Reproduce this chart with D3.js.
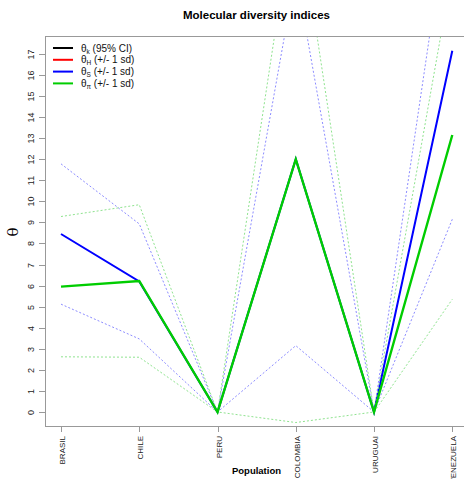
<!DOCTYPE html>
<html>
<head>
<meta charset="utf-8">
<script src="https://cdnjs.cloudflare.com/ajax/libs/d3/7.8.5/d3.min.js"></script>
<style>
  body { margin: 0; background: #fff; }
  svg { display: block; font-family: "Liberation Sans", Arial, sans-serif; }
</style>
</head>
<body>
<div id="chart"></div>
<script>
// populations along the x axis
const populations = ['BRASIL', 'CHILE', 'PERU', 'COLOMBIA', 'URUGUAI', 'VENEZUELA'];

// theta S: mean and +/- 1 sd
const thetaS = [8.45, 6.2, 0, 12.0, 0, 17.15];
const thetaSsd = [3.33, 2.73, 0, 8.85, 0, 8.0];

// theta pi: mean and +/- 1 sd
const thetaPi = [5.95, 6.22, 0, 12.0, 0, 13.15];
const thetaPisd = [3.33, 3.62, 0, 12.5, 0, 7.8];

const yTicks = d3.range(0, 18);

const legendItems = [
    { sym: 'θ', sub: 'k', txt: ' (95% CI)', color: '#000000' },
    { sym: 'θ', sub: 'H', txt: ' (+/- 1 sd)', color: '#ff0000' },
    { sym: 'θ', sub: 'S', txt: ' (+/- 1 sd)', color: '#0000ff' },
    { sym: 'θ', sub: 'π', txt: ' (+/- 1 sd)', color: '#00cd00' }
];

const W = 464, H = 479;
const plot = { left: 45, right: 468, top: 36, bottom: 426 };

const svg = d3.select('#chart').append('svg')
    .attr('width', W)
    .attr('height', H);

const x = d3.scalePoint()
    .domain(populations)
    .range([61, 452.3]);

const y = d3.scaleLinear()
    .domain([-0.665, 17.85])
    .range([plot.bottom, plot.top]);

svg.append('clipPath').attr('id', 'clip')
    .append('rect')
    .attr('x', plot.left).attr('y', plot.top)
    .attr('width', plot.right - plot.left)
    .attr('height', plot.bottom - plot.top);

const g = svg.append('g').attr('clip-path', 'url(#clip)');

const line = d3.line()
    .x((d, i) => x(populations[i]))
    .y(d => y(d));

function drawSeries(mean, sd, color, light, width) {
    const lower = mean.map((m, i) => m - sd[i]);
    const upper = mean.map((m, i) => m + sd[i]);
    [upper, lower].forEach(vals => {
        g.append('path')
            .attr('d', line(vals))
            .attr('fill', 'none')
            .attr('stroke', light)
            .attr('stroke-width', 1)
            .attr('stroke-dasharray', '2,2');
    });
    g.append('path')
        .attr('d', line(mean))
        .attr('fill', 'none')
        .attr('stroke', color)
        .attr('stroke-width', width);
}

drawSeries(thetaS, thetaSsd, '#0000ff', '#8c8cff', 2);
drawSeries(thetaPi, thetaPisd, '#00cd00', '#8fe38f', 2.4);

// frame
svg.append('rect')
    .attr('x', plot.left + 0.5).attr('y', plot.top + 0.5)
    .attr('width', plot.right - plot.left)
    .attr('height', plot.bottom - plot.top)
    .attr('fill', 'none')
    .attr('stroke', '#999');

// y axis
const yAxis = svg.append('g');
yTicks.forEach(t => {
    const yy = Math.round(y(t)) + 0.5;
    yAxis.append('line')
        .attr('x1', 39).attr('x2', plot.left)
        .attr('y1', yy).attr('y2', yy)
        .attr('stroke', '#999');
    yAxis.append('text')
        .attr('transform', `translate(34,${yy}) rotate(-90)`)
        .attr('text-anchor', 'middle')
        .attr('font-size', 9)
        .attr('fill', '#222')
        .text(t);
});

// x axis
const xAxis = svg.append('g');
populations.forEach(p => {
    const xx = Math.round(x(p)) + 0.5;
    xAxis.append('line')
        .attr('x1', xx).attr('x2', xx)
        .attr('y1', plot.bottom).attr('y2', plot.bottom + 6)
        .attr('stroke', '#999');
    xAxis.append('text')
        .attr('transform', `translate(${xx + 3},436) rotate(-90)`)
        .attr('text-anchor', 'end')
        .attr('font-size', 8)
        .attr('fill', '#222')
        .text(p);
});

// titles
svg.append('text')
    .attr('x', 256.5).attr('y', 19)
    .attr('text-anchor', 'middle')
    .attr('font-size', 11.5)
    .attr('font-weight', 'bold')
    .text('Molecular diversity indices');

svg.append('text')
    .attr('x', 256.5).attr('y', 474)
    .attr('text-anchor', 'middle')
    .attr('font-size', 9.5)
    .attr('font-weight', 'bold')
    .text('Population');

svg.append('text')
    .attr('transform', 'translate(18,232) rotate(-90)')
    .attr('text-anchor', 'middle')
    .attr('font-size', 15)
    .attr('font-family', 'DejaVu Serif, serif')
    .text('θ');

// legend
const legend = svg.append('g');
legendItems.forEach((d, i) => {
    const yy = 48 + i * 11.8;
    legend.append('line')
        .attr('x1', 53).attr('x2', 73)
        .attr('y1', yy).attr('y2', yy)
        .attr('stroke', d.color)
        .attr('stroke-width', 2);
    const t = legend.append('text')
        .attr('x', 81).attr('y', yy + 3.5)
        .attr('font-size', 10)
        .attr('fill', '#111');
    t.append('tspan').text(d.sym);
    t.append('tspan').attr('dy', 2).attr('font-size', 6.5).text(d.sub);
    t.append('tspan').attr('dy', -2).text(d.txt);
});
</script>
</body>
</html>
